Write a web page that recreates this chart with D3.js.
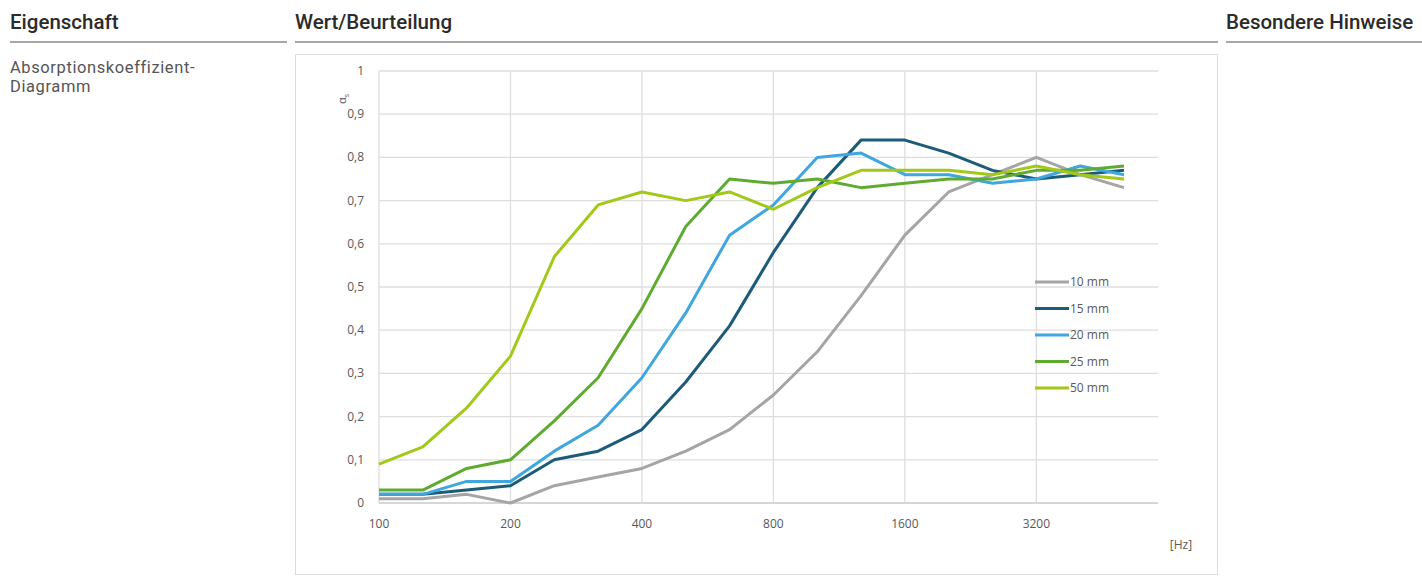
<!DOCTYPE html>
<html>
<head>
<meta charset="utf-8">
<script src="https://cdn.jsdelivr.net/npm/d3@7"></script>
<style>
  body { margin: 0; background: #fff; }
  svg { display: block; }
</style>
</head>
<body>
<div id="chart"></div>
<script>
var width = 1422, height = 578;

// third-octave band centre frequencies
var freqs = ["100", "125", "160", "200", "250", "315", "400", "500", "630", "800",
  "1000", "1250", "1600", "2000", "2500", "3150", "4000", "5000"];
var tickFreqs = ["100", "200", "400", "800", "1600", "3150"];
var tickLabels = ["100", "200", "400", "800", "1600", "3200"];
var yTicks = [0, 0.1, 0.2, 0.3, 0.4, 0.5, 0.6, 0.7, 0.8, 0.9, 1];

var seriesNames = ["10 mm", "15 mm", "20 mm", "25 mm", "50 mm"];
var seriesColors = ["#a5a5a5", "#1d5b7a", "#3fa6de", "#5fab30", "#a2c818"];
var s10 = [0.01, 0.01, 0.02, 0.00, 0.04, 0.06, 0.08, 0.12, 0.17, 0.25, 0.35, 0.48, 0.62, 0.72, 0.76, 0.80, 0.76, 0.73];
var s15 = [0.02, 0.02, 0.03, 0.04, 0.10, 0.12, 0.17, 0.28, 0.41, 0.58, 0.73, 0.84, 0.84, 0.81, 0.77, 0.75, 0.76, 0.77];
var s20 = [0.02, 0.02, 0.05, 0.05, 0.12, 0.18, 0.29, 0.44, 0.62, 0.69, 0.80, 0.81, 0.76, 0.76, 0.74, 0.75, 0.78, 0.76];
var s25 = [0.03, 0.03, 0.08, 0.10, 0.19, 0.29, 0.45, 0.64, 0.75, 0.74, 0.75, 0.73, 0.74, 0.75, 0.75, 0.77, 0.77, 0.78];
var s50 = [0.09, 0.13, 0.22, 0.34, 0.57, 0.69, 0.72, 0.70, 0.72, 0.68, 0.73, 0.77, 0.77, 0.77, 0.76, 0.78, 0.76, 0.75];
var seriesValues = [s10, s15, s20, s25, s50];

var svg = d3.select("#chart").append("svg").attr("width", width).attr("height", height);

// table header
var headFont = "Roboto, 'DejaVu Sans', sans-serif";
var heads = [
  { text: "Eigenschaft", x: 10, x1: 10, x2: 287 },
  { text: "Wert/Beurteilung", x: 295, x1: 295, x2: 1218 },
  { text: "Besondere Hinweise", x: 1226, x1: 1226, x2: 1422 }
];
heads.forEach(function (h) {
  svg.append("text").attr("x", h.x).attr("y", 29)
    .attr("font-family", headFont).attr("font-weight", 500).attr("font-size", 20.5)
    .attr("fill", "#2b2b2b").text(h.text);
  svg.append("line").attr("x1", h.x1).attr("x2", h.x2).attr("y1", 42).attr("y2", 42)
    .attr("stroke", "#8a8a8a").attr("stroke-width", 1.5);
});
svg.append("text").attr("x", 10).attr("y", 73)
  .attr("font-family", headFont).attr("font-size", 16.5).attr("letter-spacing", 0.6)
  .attr("fill", "#555").text("Absorptionskoeffizient-");
svg.append("text").attr("x", 10).attr("y", 92)
  .attr("font-family", headFont).attr("font-size", 16.5).attr("letter-spacing", 0.6)
  .attr("fill", "#555").text("Diagramm");

// chart frame
svg.append("rect").attr("x", 295.5).attr("y", 54.5).attr("width", 922).attr("height", 520)
  .attr("fill", "#fff").attr("stroke", "#dcdcdc").attr("stroke-width", 1);

var plotLeft = 379, plotRight = 1158, plotTop = 71, plotBottom = 503;
var x = d3.scalePoint().domain(freqs).range([plotLeft, 1124]);
var y = d3.scaleLinear().domain([0, 1]).range([plotBottom, plotTop]);
var chartFont = "'Open Sans', 'Liberation Sans', sans-serif";

// horizontal grid
svg.append("g").selectAll("line").data(yTicks).enter().append("line")
  .attr("x1", plotLeft).attr("x2", plotRight)
  .attr("y1", function (d) { return y(d); }).attr("y2", function (d) { return y(d); })
  .attr("stroke", function (d) { return d === 0 ? "#c8c8c8" : "#dedede"; })
  .attr("stroke-width", 1.3);
// vertical grid
svg.append("g").selectAll("line").data(tickFreqs).enter().append("line")
  .attr("x1", function (d) { return x(d); }).attr("x2", function (d) { return x(d); })
  .attr("y1", plotTop).attr("y2", plotBottom)
  .attr("stroke", "#dedede").attr("stroke-width", 1.3);

// y tick labels
svg.append("g").selectAll("text").data(yTicks).enter().append("text")
  .attr("x", 364).attr("y", function (d) { return y(d) + 4; })
  .attr("text-anchor", "end").attr("font-family", chartFont).attr("font-size", 12)
  .attr("fill", "#595959")
  .text(function (d) { return d3.format(".1~f")(d).replace(".", ","); });

// x tick labels
svg.append("g").selectAll("text").data(tickFreqs).enter().append("text")
  .attr("x", function (d) { return x(d); }).attr("y", 528)
  .attr("text-anchor", "middle").attr("font-family", chartFont).attr("font-size", 12)
  .attr("fill", "#595959")
  .text(function (d, i) { return tickLabels[i]; });

svg.append("text").attr("x", 1181).attr("y", 549).attr("text-anchor", "middle")
  .attr("font-family", chartFont).attr("font-size", 12).attr("fill", "#595959").text("[Hz]");

// y axis title
var yt = svg.append("text").attr("transform", "translate(346,104) rotate(-90)")
  .attr("font-family", chartFont).attr("font-size", 11).attr("fill", "#595959");
yt.append("tspan").text("α");
yt.append("tspan").attr("font-size", 7).attr("dy", 3).text("s");

// series
var line = d3.line()
  .x(function (d, i) { return x(freqs[i]); })
  .y(function (d) { return y(d); });

svg.append("g").selectAll("path").data(seriesValues).enter().append("path")
  .attr("d", line)
  .attr("fill", "none")
  .attr("stroke", function (d, i) { return seriesColors[i]; })
  .attr("stroke-width", 3)
  .attr("stroke-linejoin", "round");

// legend
var legend = svg.append("g").selectAll("g").data(seriesNames).enter().append("g")
  .attr("transform", function (d, i) { return "translate(1035," + (282 + i * 26.5) + ")"; });
legend.append("line").attr("x1", 0).attr("x2", 34).attr("y1", 0).attr("y2", 0)
  .attr("stroke", function (d, i) { return seriesColors[i]; }).attr("stroke-width", 3);
legend.append("text").attr("x", 35).attr("y", 4)
  .attr("font-family", chartFont).attr("font-size", 12).attr("fill", "#595959")
  .text(function (d) { return d; });
</script>
</body>
</html>
